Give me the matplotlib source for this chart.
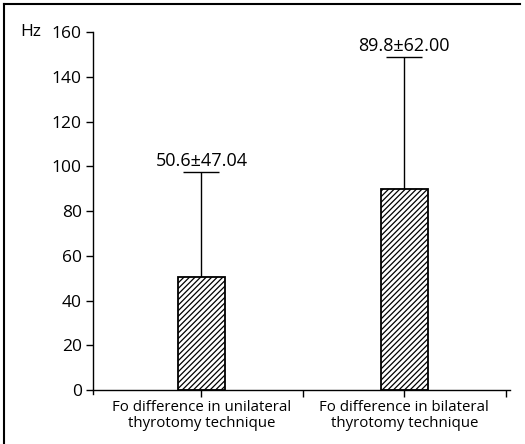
import matplotlib
matplotlib.use("Agg")
import matplotlib.pyplot as plt
from matplotlib.lines import Line2D

plt.rcParams['font.family'] = ['Open Sans', 'DejaVu Sans']
plt.rcParams['hatch.linewidth'] = 0.9

categories = ["Fo difference in unilateral\nthyrotomy technique",
              "Fo difference in bilateral\nthyrotomy technique"]
means = [50.6, 89.8]
errors = [47.04, 59.0]
labels = ["50.6\u00b147.04", "89.8\u00b162.00"]
yticks = [0, 20, 40, 60, 80, 100, 120, 140, 160]


def main():
    fig = plt.figure(figsize=(5.25, 4.44), dpi=100)
    ax = fig.add_axes([0.177, 0.1216, 0.794, 0.806])

    pos = list(range(len(means)))
    ax.bar(pos, means, width=0.23, color='white', edgecolor='black',
           linewidth=1.3, hatch='//////', zorder=2)
    ax.errorbar(pos, means, yerr=[[0] * len(errors), errors], fmt='none',
                ecolor='black', elinewidth=1.0, capsize=13, capthick=1.0,
                zorder=1)
    for x, m, e, t in zip(pos, means, errors, labels):
        ax.annotate(t, (x, m + e), xytext=(0, 1.5), textcoords='offset points',
                    ha='center', va='bottom', fontsize=13)

    ax.set_xlim(-0.535, 1.52)
    ax.set_ylim(0, 160)
    ax.set_yticks(yticks)
    ax.set_xticks([0, 0.5, 1, 1.5])
    ax.set_xticklabels([categories[0], '', categories[1], ''], fontsize=10.8,
                       linespacing=1.1)
    ax.tick_params(axis='y', direction='out', length=5, width=1, labelsize=12.5, pad=3)
    ax.tick_params(axis='x', direction='out', length=5, width=1, pad=2)
    for s in ['top', 'right']:
        ax.spines[s].set_visible(False)
    ax.spines['left'].set_bounds(-2, 160)
    ax.spines['left'].set_linewidth(1)
    ax.spines['bottom'].set_linewidth(1)

    ax.text(-0.175, 1.0, "Hz", transform=ax.transAxes, ha='left', va='center',
            fontsize=12.5)

    # outer frame, left and top only
    fig.add_artist(Line2D([0.008, 0.008], [0, 0.991], color='black', lw=1.5,
                          transform=fig.transFigure))
    fig.add_artist(Line2D([0.008, 0.99], [0.991, 0.991], color='black', lw=1.5,
                          transform=fig.transFigure))

    fig.savefig("out.png", dpi=100)


if __name__ == '__main__':
    main()
